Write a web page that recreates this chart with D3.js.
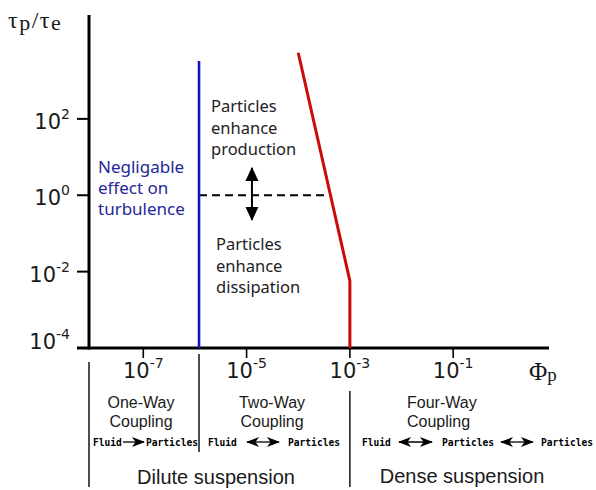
<!DOCTYPE html>
<html><head><meta charset="utf-8">
<script src="https://cdn.jsdelivr.net/npm/d3@7"></script>
<style>body{margin:0;background:#fff} svg{display:block}</style>
</head><body><svg id="c" width="596" height="490"></svg>
<script>
// ---- data ----
const yTickValues = [1e2, 1e0, 1e-2, 1e-4];
const yTickExps = ["2", "0", "-2", "-4"];
const xTickValues = [1e-7, 1e-5, 1e-3, 1e-1];
const xTickExps = ["-7", "-5", "-3", "-1"];
const blueLine = [[1.2e-6, 1e-4], [1.2e-6, 3.3e3]];
const redLine = [[1e-4, 5.4e3], [1e-3, 5.7e-3], [1e-3, 1e-4]];
const dashedLine = [[1.2e-6, 1], [3.3e-4, 1]];
const arrowV = [[1.27e-5, 5.2], [1.27e-5, 0.226]];
const negligibleText = ["Negligable", "effect on", "turbulence"];
const productionText = ["Particles", "enhance", "production"];
const dissipationText = ["Particles", "enhance", "dissipation"];
const regimeNames = [["One-Way", "Coupling"], ["Two-Way", "Coupling"], ["Four-Way", "Coupling"]];
const suspensionNames = ["Dilute suspension", "Dense suspension"];

// ---- scales ----
const svg = d3.select("#c");
const x = d3.scaleLog().domain([Math.pow(10, -8.051), Math.pow(10, 0.855)]).range([89, 549]);
const y = d3.scaleLog().domain([1e-4, Math.pow(10, 4.72)]).range([348, 15]);
const line = d3.line().x(d => x(d[0])).y(d => y(d[1]));
const ink = "#1a1a1a";

// defs
const defs = svg.append("defs");
defs.append("marker").attr("id", "sh").attr("viewBox", "0 -5 13 10").attr("refX", 12).attr("refY", 0)
  .attr("markerWidth", 13).attr("markerHeight", 10).attr("markerUnits", "userSpaceOnUse").attr("orient", "auto-start-reverse")
  .append("path").attr("d", "M0,-5 L13,0 L0,5 L3.5,0 Z").attr("fill", "#000");
defs.append("marker").attr("id", "tri").attr("viewBox", "0 -7 14 14").attr("refX", 13).attr("refY", 0)
  .attr("markerWidth", 14).attr("markerHeight", 14).attr("markerUnits", "userSpaceOnUse").attr("orient", "auto-start-reverse")
  .append("path").attr("d", "M0,-6.5 L14,0 L0,6.5 Z").attr("fill", "#000");

// ---- axes ----
const [xr0, xr1] = x.range();
const [yr0, yr1] = y.range();
svg.append("line").attr("x1", xr0).attr("x2", xr0).attr("y1", yr1).attr("y2", yr0 + 1.5)
  .attr("stroke", "#000").attr("stroke-width", 3);
svg.append("line").attr("x1", xr0 - 12).attr("x2", xr1).attr("y1", yr0).attr("y2", yr0)
  .attr("stroke", "#000").attr("stroke-width", 3);

// y ticks
const yt = svg.append("g").selectAll("g").data(yTickValues).join("g");
yt.append("line").attr("x1", xr0 - 12).attr("x2", xr0).attr("y1", d => y(d)).attr("y2", d => y(d))
  .attr("stroke", "#000").attr("stroke-width", 2);
const ytx = yt.append("text").attr("x", 70).attr("y", (d, i) => y(d) + (i === 3 ? 1 : 10))
  .attr("text-anchor", "end").attr("font-family", "DejaVu Sans").attr("font-size", 21).attr("fill", ink);
ytx.append("tspan").text("10");
ytx.append("tspan").attr("dy", -10).attr("font-size", 14).text((d, i) => yTickExps[i].replace("-", "\u2011"));

// x ticks
const xt = svg.append("g").selectAll("g").data(xTickValues).join("g");
xt.append("line").attr("x1", d => x(d)).attr("x2", d => x(d)).attr("y1", yr0).attr("y2", yr0 + 10)
  .attr("stroke", "#000").attr("stroke-width", 1.6);
const xtx = xt.append("text").attr("x", d => x(d)).attr("y", 378)
  .attr("text-anchor", "middle").attr("font-family", "DejaVu Sans").attr("font-size", 21).attr("fill", ink);
xtx.append("tspan").text("10");
xtx.append("tspan").attr("dy", -10).attr("font-size", 14).text((d, i) => xTickExps[i]);

// axis labels
const yl = svg.append("text").attr("x", 8).attr("y", 28).attr("font-family", "Liberation Serif")
  .attr("font-size", 24).attr("fill", ink).attr("letter-spacing", 1.5);
yl.append("tspan").text("\u03c4");
yl.append("tspan").attr("dy", 2).attr("font-size", 22).text("p");
yl.append("tspan").attr("dy", -2).text("/\u03c4");
yl.append("tspan").attr("dy", 2).attr("font-size", 22).text("e");
const xl = svg.append("text").attr("x", 529).attr("y", 380).attr("font-family", "Liberation Serif")
  .attr("font-size", 25).attr("fill", ink);
xl.append("tspan").text("\u03a6");
xl.append("tspan").attr("dy", 1).attr("font-size", 19).text("p");

// ---- marks ----
svg.append("path").attr("d", line(dashedLine)).attr("fill", "none").attr("stroke", "#000")
  .attr("stroke-width", 2).attr("stroke-dasharray", "8,5");
svg.append("path").attr("d", line(blueLine)).attr("fill", "none").attr("stroke", "#1414c4").attr("stroke-width", 2.6);
svg.append("path").attr("d", line(redLine)).attr("fill", "none").attr("stroke", "#cc0a0a").attr("stroke-width", 3)
  .attr("stroke-linejoin", "miter");
svg.append("path").attr("d", line(arrowV)).attr("fill", "none").attr("stroke", "#000").attr("stroke-width", 2)
  .attr("marker-start", "url(#tri)").attr("marker-end", "url(#tri)");

// annotation text blocks
function block(lines, x0, y0, dy, color, size) {
  const t = svg.append("text").attr("font-family", "Noto Sans").attr("font-size", size).attr("fill", color);
  t.selectAll("tspan").data(lines).join("tspan").attr("x", x0).attr("y", (d, i) => y0 + i * dy).text(d => d);
}
block(negligibleText, 98, 173, 21, "#26269a", 17);
block(productionText, 211, 112, 21.5, "#222", 16.5);
block(dissipationText, 216, 250, 21.5, "#222", 16.5);

// ---- regime separators ----
const sep = [[xr0, 362, 487], [x(blueLine[0][0]), 354, 452], [x(1e-3), 391, 487]];
svg.append("g").selectAll("line").data(sep).join("line")
  .attr("x1", d => d[0]).attr("x2", d => d[0]).attr("y1", d => d[1]).attr("y2", d => d[2])
  .attr("stroke", "#222").attr("stroke-width", 1.6);

// regime labels
const rl = [[141, "middle"], [272, "middle"], [407, "start"]];
regimeNames.forEach((r, i) => {
  const t = svg.append("text").attr("font-family", "Liberation Sans").attr("font-size", 16).attr("fill", ink)
    .attr("text-anchor", rl[i][1]);
  t.selectAll("tspan").data(r).join("tspan").attr("x", rl[i][0]).attr("y", (d, j) => 408 + j * 18.5).text(d => d);
});
svg.append("text").attr("x", 216).attr("y", 484).attr("text-anchor", "middle").attr("font-family", "Liberation Sans")
  .attr("font-size", 20).attr("fill", ink).text(suspensionNames[0]);
svg.append("text").attr("x", 462).attr("y", 483).attr("text-anchor", "middle").attr("font-family", "Liberation Sans")
  .attr("font-size", 20).attr("fill", ink).text(suspensionNames[1]);

// coupling row
const words = [["Fluid", 93], ["Particles", 146], ["Fluid", 208], ["Particles", 288], ["Fluid", 362], ["Particles", 442], ["Particles", 541]];
svg.append("g").selectAll("text").data(words).join("text").attr("x", d => d[1]).attr("y", 446)
  .attr("font-family", "DejaVu Sans Mono").attr("font-weight", "bold").attr("font-size", 9.6).attr("fill", "#000")
  .text(d => d[0]);
const arrows = [[123, 144, false], [247, 279, true], [399, 432, true], [501, 533, true]];
svg.append("g").selectAll("line").data(arrows).join("line")
  .attr("x1", d => d[0]).attr("x2", d => d[1]).attr("y1", 442).attr("y2", 442)
  .attr("stroke", "#000").attr("stroke-width", 1.3)
  .attr("marker-end", "url(#sh)").attr("marker-start", d => d[2] ? "url(#sh)" : null);
</script></body></html>
